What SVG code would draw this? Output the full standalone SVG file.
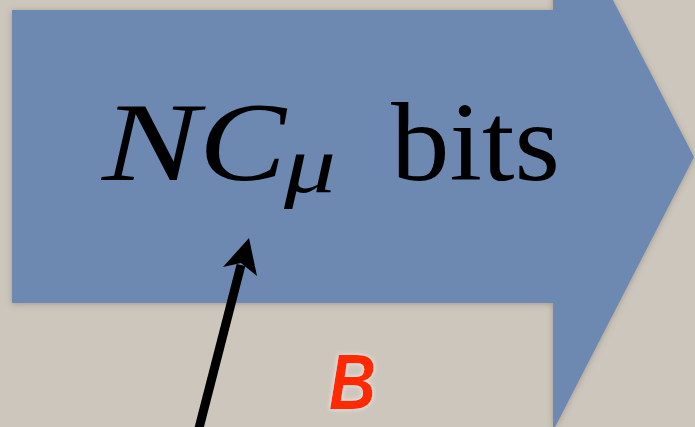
<svg xmlns="http://www.w3.org/2000/svg" width="695" height="427" viewBox="0 0 695 427">
  <defs>
    <filter id="shadow" x="-10%" y="-10%" width="120%" height="120%">
      <feDropShadow dx="0" dy="1" stdDeviation="3" flood-color="#6b6256" flood-opacity="0.45"/>
    </filter>
    <filter id="glow" filterUnits="userSpaceOnUse" x="312" y="335" width="85" height="91">
      <feDropShadow dx="0" dy="0" stdDeviation="2.5" flood-color="#ffffff" flood-opacity="0.7"/>
    </filter>
    <style>
      .math { font-family: "Liberation Serif", "DejaVu Serif", serif; fill: #000; }
      .it { font-style: italic; }
      .label { font-family: "Liberation Sans", Arial, sans-serif; font-weight: bold; font-style: italic; fill: #ff2a00; }
    </style>
  </defs>
  <rect x="0" y="0" width="695" height="427" fill="#cdc6bc"/>
  <g id="block-arrow">
    <path d="M12,10 L553,10 L553,-116 L694,157 L553,431 L553,303 L12,303 Z" fill="#6d89b1" filter="url(#shadow)"/>
    <text class="math it" x="102" y="180" font-size="112" textLength="97" lengthAdjust="spacingAndGlyphs">N</text>
    <text class="math it" x="199" y="180" font-size="112" textLength="87" lengthAdjust="spacingAndGlyphs">C</text>
    <text class="math it" x="284" y="192" font-size="80" textLength="52" lengthAdjust="spacingAndGlyphs">μ</text>
    <text class="math" x="391" y="180" font-size="112" textLength="169" lengthAdjust="spacingAndGlyphs">bits</text>
  </g>
  <g id="label-B">
    <text class="label" x="329" y="409" font-size="78" textLength="47" lengthAdjust="spacingAndGlyphs" filter="url(#glow)">B</text>
  </g>
  <g id="connectors">
    <line x1="198" y1="432" x2="241" y2="265" stroke="#000" stroke-width="9"/>
    <path d="M249,238 L257,276 L241,263 L223,267 Z" fill="#000"/>
  </g>
</svg>
